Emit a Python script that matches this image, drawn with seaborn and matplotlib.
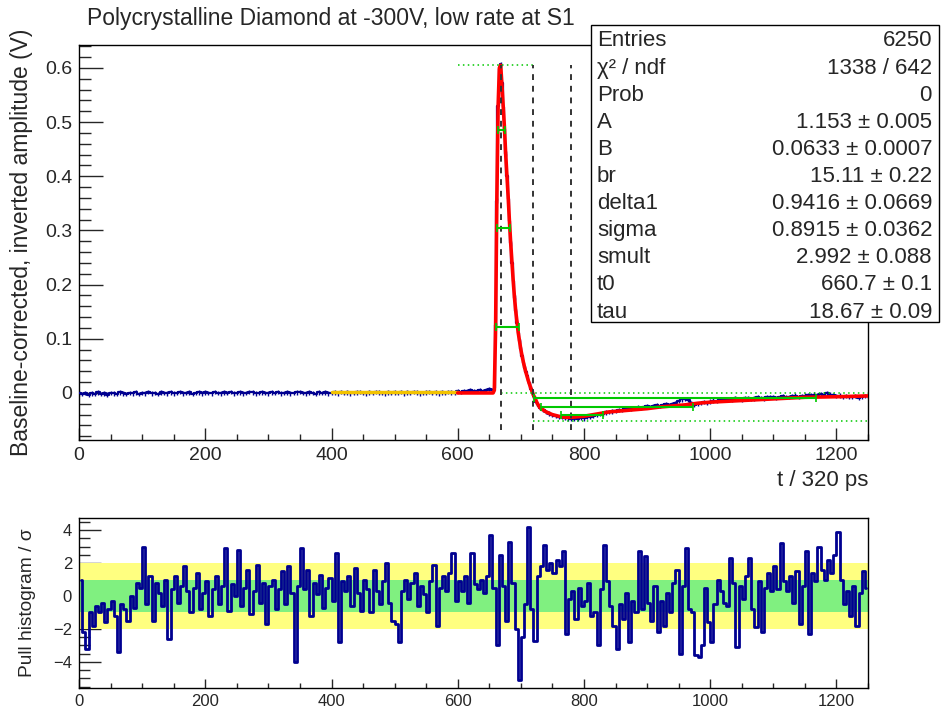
import numpy as np
import pandas as pd
import matplotlib
matplotlib.use("Agg")
import matplotlib.pyplot as plt
import seaborn as sns
from matplotlib.ticker import MultipleLocator
from matplotlib.patches import Rectangle

# ---------------- data ----------------
# waveform (baseline-corrected, inverted), baseline part, values in mV, bins of 5 (t = 0..655)
base_mv = [
    -1, -2, 0, -3, -1, -2, 1, -2, -1, -3, 0, -1, -2, 1, -1, -2, 0, -1, 1, -2,
    0, -1, 2, -1, 0, -2, 1, 0, -1, 1, -1, 0, 2, -1, 0, 1, -2, 0, 1, -1,
    1, 0, -1, 2, 0, -1, 1, 0, 2, -1, 0, 1, -1, 0, 2, 1, -1, 0, 1, 0,
    -1, 1, 0, 2, -1, 0, 1, -1, 0, 1, 2, 0, -1, 1, 0, -2, 1, 0, 1, -1,
    0, 1, -1, 2, 0, 1, -1, 0, 1, 2, 0, -1, 1, 0, 2, 1, 0, -1, 1, 0,
    1, 0, 2, -1, 1, 0, 2, 1, -1, 0, 1, 2, 0, 1, -1, 1, 0, 2, 1, 0,
    3, 2, 4, 3, 5, 3, 4, 6, 4, 5, 7, 6,
]
# pulse region, bins of 2 (t = 656..730), in V
peak_v = [
    0.004, 0.010, 0.125, 0.355, 0.530, 0.598, 0.607, 0.572, 0.528, 0.487,
    0.442, 0.400, 0.358, 0.318, 0.276, 0.240, 0.207, 0.176, 0.151, 0.130,
    0.110, 0.095, 0.081, 0.068, 0.056, 0.046, 0.039, 0.031, 0.022, 0.016,
    0.008, 0.003, -0.005, -0.010, -0.016, -0.020, -0.024, -0.028,
]
# undershoot / recovery tail, bins of 5 (t = 735..1250), in mV
tail_mv = [
    -31, -35, -38, -41, -42, -44, -45, -46, -47, -48,
    -47, -48, -46, -47, -45, -44, -43, -41, -39, -38,
    -36, -35, -34, -33, -31, -32, -30, -29, -30, -28,
    -27, -28, -26, -25, -26, -24, -23, -24, -22, -21,
    -22, -20, -18, -15, -12, -11, -13, -19, -22, -21,
    -19, -17, -18, -16, -14, -15, -13, -12, -13, -11,
    -12, -10, -11, -12, -10, -9, -11, -10, -8, -9,
    -10, -8, -7, -8, -9, -7, -6, -7, -8, -6,
    -5, -7, -6, -5, -4, -5, -3, -4, -2, -3,
    -1, -3, -4, -6, -5, -7, -6, -8, -7, -6,
    -9, -7, -6, -5,
]
data_err = 0.004

# fit function (red)
fit_t = [600, 620, 640, 656, 658, 660, 662, 664, 666, 668, 670, 672, 674, 676, 678,
         680, 682, 684, 686, 688, 690, 692, 694, 696, 698, 700, 702, 704, 706, 708,
         710, 712, 714, 716, 718, 720, 722, 724, 726, 728, 730, 740, 750, 760, 770,
         780, 790, 800, 810, 820, 830, 840, 850, 860, 870, 880, 890, 900, 920, 940,
         960, 980, 1000, 1050, 1100, 1150, 1200, 1250]
fit_v = [0, 0, 0, 0, 0.005, 0.12, 0.36, 0.53, 0.60, 0.605, 0.57, 0.53, 0.49, 0.44, 0.40,
         0.36, 0.315, 0.275, 0.24, 0.205, 0.175, 0.15, 0.13, 0.11, 0.095, 0.08, 0.068, 0.057, 0.047, 0.038,
         0.03, 0.022, 0.015, 0.008, 0.002, -0.004, -0.009, -0.014, -0.019, -0.023, -0.027, -0.035, -0.040, -0.043, -0.045,
         -0.045, -0.044, -0.043, -0.041, -0.039, -0.037, -0.035, -0.034, -0.033, -0.032, -0.031, -0.030, -0.029, -0.026, -0.024,
         -0.022, -0.019, -0.017, -0.014, -0.011, -0.008, -0.007, -0.0055]

# baseline fit (yellow)
basefit_t = [400, 600]
basefit_v = [0.002, 0.002]

# markers: levels (green bars with caps)
lvl_y = [0.485, 0.305, 0.122, -0.0095, -0.026, -0.040]
lvl_x0 = [664, 662, 660, 721, 732, 763]
lvl_x1 = [675, 683, 697, 1168, 973, 830]
# dotted green reference lines
dot_y = [0.605, 0.0, -0.052]
dot_x0 = [600, 668, 719]
dot_x1 = [719, 1250, 1250]
# vertical dashed lines
vline_x = [668, 719, 779]
vline_y0, vline_y1 = -0.068, 0.605

# pull histogram, bins of 5
pull_v = [
    1.0, -2.2, -3.2, -1.0, -1.8, -0.6, -1.0, -0.4, -1.6, -0.8,
    -0.3, -1.2, -3.4, -0.5, -0.8, -1.5, 0.0, -0.7, 0.8, 0.5,
    3.0, -0.5, 1.2, -1.5, 0.8, 0.2, -0.6, 1.0, -2.6, 0.4,
    1.2, -0.4, 0.6, 1.8, 0.3, -1.0, 0.5, 1.4, -0.8, 0.2,
    0.9, -1.2, 0.4, 1.2, -0.5, 0.6, 2.9, -0.9, 0.7, 0.0,
    2.8, -0.6, 0.5, 1.6, -1.1, 0.3, 1.9, -0.4, 0.8, -1.7,
    0.6, 1.0, -0.8, 0.4, 1.5, -0.5, 1.8, 0.2, -4.0, 0.6,
    2.9, 0.4, 1.6, -1.2, 0.8, 0.1, 1.3, -0.7, 0.5, 1.1,
    -0.3, 2.6, -2.8, 0.9, 0.3, 1.2, -0.6, 1.7, 0.2, -0.9,
    1.0, 0.4, -1.0, 1.6, 0.3, -0.5, 0.9, 2.0, -0.4, -1.5,
    -1.7, -2.8, 0.3, 1.0, -0.2, 0.8, 1.4, -0.6, 0.6, 0.1,
    -1.0, 0.9, 1.9, -1.8, 0.5, 1.2, 0.3, 1.4, 2.6, -0.3,
    0.9, 0.3, 1.2, -0.4, 2.6, 0.7, 0.4, 1.0, 0.2, 1.2,
    3.7, 0.5, -3.0, 2.5, 0.6, -1.5, 3.3, 0.8, -2.0, -5.1,
    -2.5, -0.5, 4.2, -0.8, -2.7, 1.2, 1.8, 3.1, 1.6, 2.0,
    1.4, 2.2, 1.8, 2.7, -2.3, -0.2, 0.3, -1.4, 0.5, -0.6,
    -0.3, 0.8, -1.2, -1.0, -3.0, 0.4, 3.1, 0.9, -0.6, -1.8,
    -3.2, -0.5, -1.4, 0.2, -2.8, -0.3, -1.0, 2.7, -0.8, 2.4,
    -0.4, -1.5, 0.6, -2.2, -0.3, -1.8, 0.2, -1.0, 0.8, 1.6,
    -3.5, 0.6, 2.9, -0.8, -1.0, -3.6, -3.7, -3.0, 0.5, -1.6,
    -2.8, -0.5, 1.0, 0.3, -0.4, -0.6, 2.3, 0.8, -3.1, 0.6,
    -0.2, 1.2, 2.3, -0.8, -1.9, 0.9, -2.2, 0.5, 1.4, 0.3,
    1.8, 0.4, 3.2, 0.9, 0.3, 1.2, -0.4, 1.5, -1.7, 0.6,
    2.7, -2.3, 1.4, 0.9, 3.0, 1.6, 1.0, 2.2, 1.4, 2.5,
    3.9, 1.0, -0.5, 0.3, -1.2, 0.6, -1.8, 0.2, 1.5, 0.5,
]

stat_names = ["Entries", "χ² / ndf", "Prob", "A", "B", "br", "delta1",
              "sigma", "smult", "t0", "tau"]
stat_values = ["6250", "1338 / 642", "0", "1.153 ± 0.005", "0.0633 ± 0.0007",
               "15.11 ± 0.22", "0.9416 ± 0.0669", "0.8915 ± 0.0362",
               "2.992 ± 0.088", "660.7 ± 0.1", "18.67 ± 0.09"]

title = "Polycrystalline Diamond at -300V, low rate at S1"

# ---------------- assemble ----------------
t_all = np.concatenate([np.arange(0, 656, 5), np.arange(656, 731, 2), np.arange(735, 1251, 5)])
v_all = np.concatenate([np.array(base_mv) / 1000.0, np.array(peak_v), np.array(tail_mv) / 1000.0])
wave = pd.DataFrame({"t": t_all, "v": v_all})
fit = pd.DataFrame({"t": fit_t, "v": fit_v})
pull = pd.DataFrame({"t": np.arange(2.5, 1250, 5), "p": pull_v})

sns.set_theme(style="white")
plt.rcParams["font.family"] = ["Liberation Sans", "DejaVu Sans"]
plt.rcParams["axes.linewidth"] = 1.0

NAVY = "#000090"
GREEN = "#00c800"

fig = plt.figure(figsize=(9.41, 7.07), dpi=100)
ax = fig.add_axes([0.084, 0.3777, 0.8384, 0.5587])
axp = fig.add_axes([0.084, 0.0269, 0.8384, 0.2404])

# ---- main panel ----
ax.errorbar(wave["t"], wave["v"], yerr=data_err, fmt="none", ecolor=NAVY, elinewidth=1.0, zorder=2)
sns.lineplot(data=wave, x="t", y="v", ax=ax, color=NAVY, lw=1.6, drawstyle="steps-mid",
             estimator=None, zorder=3)
sns.lineplot(x=basefit_t, y=basefit_v, ax=ax, color="#f2c200", lw=2.5, estimator=None, zorder=4)
sns.lineplot(data=fit, x="t", y="v", ax=ax, color="#ff0000", lw=2.6, estimator=None, zorder=4)

for y, a, b in zip(dot_y, dot_x0, dot_x1):
    ax.hlines(y, a, b, colors=GREEN, linestyles=(0, (1, 2.2)), lw=1.1, zorder=5)
for x in vline_x:
    ax.vlines(x, vline_y0, vline_y1, colors="#333333", linestyles=(0, (3, 3)), lw=1.4, zorder=5)
mids = [(a + b) / 2 for a, b in zip(lvl_x0, lvl_x1)]
half = [(b - a) / 2 for a, b in zip(lvl_x0, lvl_x1)]
ax.errorbar(mids, lvl_y, xerr=half, fmt="none", ecolor=GREEN, elinewidth=1.5, capsize=3,
            capthick=1.2, zorder=6)

ax.set_xlim(0, 1250)
ax.set_ylim(-0.0868, 0.6424)
ax.xaxis.set_major_locator(MultipleLocator(200))
ax.xaxis.set_minor_locator(MultipleLocator(50))
ax.yaxis.set_major_locator(MultipleLocator(0.1))
ax.yaxis.set_minor_locator(MultipleLocator(0.02))
ax.yaxis.set_major_formatter(matplotlib.ticker.FuncFormatter(lambda v, p: "0" if abs(v) < 1e-9 else f"{v:.1f}"))
ax.tick_params(axis="x", which="major", direction="in", length=9, width=1, labelsize=14, pad=5)
ax.tick_params(axis="x", which="minor", direction="in", length=4.5, width=1)
ax.tick_params(axis="y", which="major", direction="in", length=17, width=1, labelsize=14, pad=5)
ax.tick_params(axis="y", which="minor", direction="in", length=8.5, width=1)
ax.tick_params(bottom=True, left=True, top=False, right=False, which="both")
ax.set_xlabel("")
ax.set_ylabel("Baseline-corrected, inverted amplitude (V)", fontsize=16.5)
ax.yaxis.set_label_coords(-0.058, 0.5)
ax.text(1.0, -0.102, "t / 320 ps", transform=ax.transAxes, ha="right", va="center", fontsize=16)
for s in ax.spines.values():
    s.set_color("black")

# ---- pull panel ----
axp.fill_between([0, 1250], -2, 2, color="#ffff80", lw=0, zorder=1)
axp.fill_between([0, 1250], -1, 1, color="#80f080", lw=0, zorder=1)
sns.lineplot(data=pull, x="t", y="p", ax=axp, color=NAVY, lw=2.0, drawstyle="steps-mid",
             estimator=None, zorder=3)
axp.set_xlim(0, 1250)
axp.set_ylim(-5.58, 4.73)
axp.xaxis.set_major_locator(MultipleLocator(200))
axp.xaxis.set_minor_locator(MultipleLocator(50))
axp.yaxis.set_major_locator(MultipleLocator(2))
axp.yaxis.set_minor_locator(MultipleLocator(0.5))
axp.yaxis.set_major_formatter(matplotlib.ticker.FuncFormatter(lambda v, p: f"{v:.0f}".replace("-", "\u2212")))
axp.tick_params(axis="x", which="major", direction="in", length=6.5, width=1, labelsize=12, pad=4)
axp.tick_params(axis="x", which="minor", direction="in", length=3.5, width=1)
axp.tick_params(axis="y", which="major", direction="in", length=16, width=1, labelsize=12, pad=5)
axp.tick_params(axis="y", which="minor", direction="in", length=8, width=1)
axp.tick_params(bottom=True, left=True, top=False, right=False, which="both")
axp.set_xlabel("")
axp.set_ylabel("Pull histogram / σ", fontsize=13.8)
axp.yaxis.set_label_coords(-0.055, 0.5)
for s in axp.spines.values():
    s.set_color("black")

# ---- title ----
fig.text(0.092, 0.9745, title, ha="left", va="center", fontsize=16.5)

# ---- stats box ----
bx0, by0, bx1, by1 = 591 / 941, 1 - 322 / 707, 939 / 941, 1 - 25 / 707
fig.add_artist(Rectangle((bx0, by0), bx1 - bx0, by1 - by0, transform=fig.transFigure,
                         facecolor="white", edgecolor="black", lw=1.0, zorder=10))
row0, row1 = 41, 312
n = len(stat_names)
for i, (nm, val) in enumerate(zip(stat_names, stat_values)):
    ypx = row0 + (row1 - row0) * i / (n - 1)
    yf = 1 - ypx / 707
    fig.text(597 / 941, yf, nm, ha="left", va="center", fontsize=16, zorder=11)
    fig.text(932 / 941, yf, val, ha="right", va="center", fontsize=16, zorder=11)

fig.savefig("out.png", dpi=100)
